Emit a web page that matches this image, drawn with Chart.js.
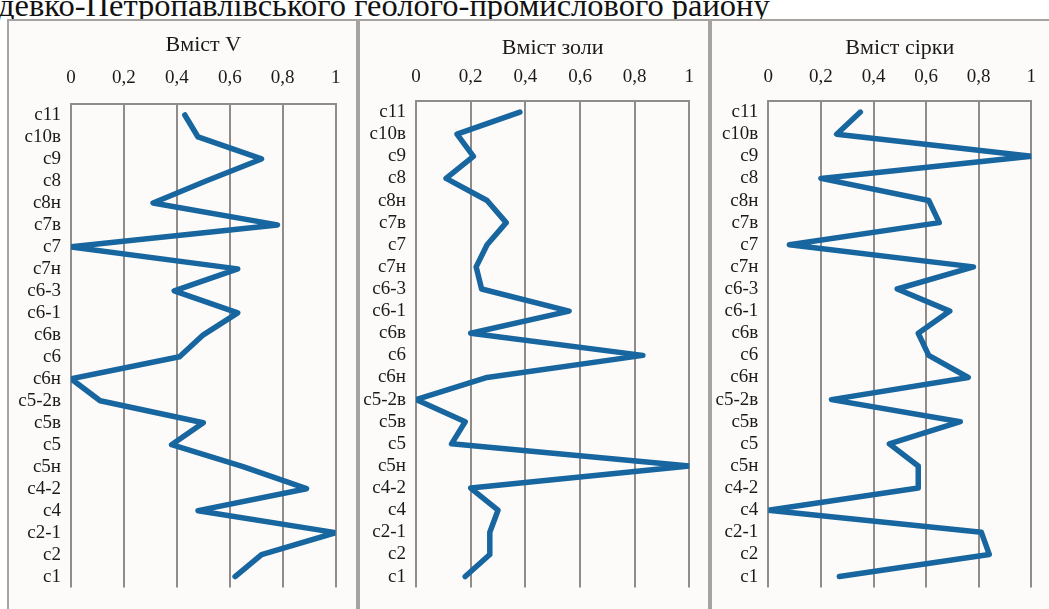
<!DOCTYPE html>
<html lang="uk">
<head>
<meta charset="utf-8">
<title>Вміст V, золи та сірки у пластах вугілля</title>
<script src="https://cdn.jsdelivr.net/npm/chart.js@4.4.1/dist/chart.umd.min.js"></script>
<style>
  html, body { margin: 0; padding: 0; background: #ffffff; }
  body { width: 1049px; height: 609px; position: relative; overflow: hidden; }
  .caption {
    position: absolute; left: -2px; top: -11px; white-space: nowrap;
    font-family: "Liberation Serif", "DejaVu Serif", serif; font-size: 32.5px; line-height: 32.5px;
    color: #111;
  }
  .frame {
    position: absolute; top: 19px; height: 620px; box-sizing: border-box;
    border: 2px solid #a6a3a0; background: #fdfbfa;
  }
  canvas { position: absolute; }
</style>
</head>
<body>
<div class="caption">девко-Петропавлівського геолого-промислового району</div>

<div class="frame" style="left:7px; width:351px;"></div>
<div class="frame" style="left:358px; width:352px;"></div>
<div class="frame" style="left:710px; width:350px;"></div>

<canvas id="chartV" width="345" height="589" style="left:10px; top:20px;"></canvas>
<canvas id="chartAsh" width="345" height="589" style="left:362px; top:20px;"></canvas>
<canvas id="chartS" width="335" height="589" style="left:714px; top:20px;"></canvas>

<script>
// Coal seams, listed from the top of the section down
const seams = ['с11', 'с10в', 'с9', 'с8', 'с8н', 'с7в', 'с7', 'с7н', 'с6-3', 'с6-1', 'с6в',
               'с6', 'с6н', 'с5-2в', 'с5в', 'с5', 'с5н', 'с4-2', 'с4', 'с2-1', 'с2', 'с1'];

// Normalised contents (0–1) per seam
const vanadium = [0.43, 0.48, 0.72, 0.51, 0.31, 0.78, 0.00, 0.63, 0.39, 0.63, 0.50,
                  0.41, 0.00, 0.11, 0.50, 0.38, 0.65, 0.89, 0.48, 1.00, 0.72, 0.62];
const ash      = [0.38, 0.15, 0.21, 0.11, 0.26, 0.33, 0.26, 0.22, 0.24, 0.56, 0.20,
                  0.83, 0.26, 0.00, 0.18, 0.13, 1.00, 0.20, 0.30, 0.27, 0.27, 0.18];
const sulfur   = [0.35, 0.26, 1.00, 0.20, 0.61, 0.65, 0.08, 0.78, 0.49, 0.69, 0.57,
                  0.61, 0.76, 0.24, 0.73, 0.46, 0.57, 0.57, 0.00, 0.81, 0.84, 0.27];

// Value axis ticks
const xTicks = [0, 0.2, 0.4, 0.6, 0.8, 1];
const xTickLabels = ['0', '0,2', '0,4', '0,6', '0,8', '1'];

const panelTitles = ['Вміст V', 'Вміст золи', 'Вміст сірки'];

const SERIF = '"Liberation Serif", "Times New Roman", serif';
const LINE_COLOR = '#17669f';
const GRID_COLOR = '#8f8c89';
const TEXT_COLOR = '#1c1a18';

// Draws the panel heading centred over the plot area
const panelTitle = {
  id: 'panelTitle',
  afterDraw(chart, args, opts) {
    const { ctx, chartArea } = chart;
    ctx.save();
    ctx.font = `${opts.size}px ${SERIF}`;
    ctx.fillStyle = TEXT_COLOR;
    ctx.textAlign = 'center';
    ctx.textBaseline = 'middle';
    ctx.fillText(opts.text, (chartArea.left + chartArea.right) / 2, opts.y);
    ctx.restore();
  }
};

function makePanel(canvasId, title, values, geo) {
  return new Chart(document.getElementById(canvasId), {
    type: 'line',
    plugins: [panelTitle],
    data: {
      labels: seams,
      datasets: [{
        label: title,
        data: values,
        borderColor: LINE_COLOR,
        borderWidth: 5.5,
        borderJoinStyle: 'round',
        borderCapStyle: 'round',
        pointRadius: 0,
        pointHoverRadius: 0,
        tension: 0,
        fill: false
      }]
    },
    options: {
      indexAxis: 'y',
      responsive: false,
      animation: false,
      events: [],
      layout: { padding: { left: 0, top: 0, right: geo.padRight, bottom: geo.padBottom } },
      plugins: {
        legend: { display: false },
        tooltip: { enabled: false },
        title: { display: false },
        panelTitle: { text: title, y: geo.titleY, size: 22 }
      },
      scales: {
        x: {
          type: 'linear',
          position: 'top',
          min: 0,
          max: 1,
          afterBuildTicks(scale) { scale.ticks = xTicks.map(v => ({ value: v })); },
          afterFit(scale) { scale.height = geo.top; },
          ticks: {
            padding: geo.tickPad,
            color: TEXT_COLOR,
            font: { family: SERIF, size: 19 },
            maxRotation: 0,
            callback: (v) => xTickLabels[xTicks.indexOf(v)] ?? ''
          },
          grid: { color: GRID_COLOR, lineWidth: 2, drawTicks: false },
          border: { display: true, color: GRID_COLOR, width: 2 }
        },
        y: {
          type: 'category',
          offset: true,
          afterFit(scale) { scale.width = geo.left; },
          ticks: {
            autoSkip: false,
            padding: 10,
            color: TEXT_COLOR,
            font: { family: SERIF, size: 19 }
          },
          grid: { display: false, drawTicks: false },
          border: { display: false }
        }
      }
    }
  });
}

makePanel('chartV', panelTitles[0], vanadium,
  { left: 61, top: 84, padRight: 13, padBottom: 11, titleY: 25, tickPad: 14.6 });
makePanel('chartAsh', panelTitles[1], ash,
  { left: 54, top: 81, padRight: 14.7, padBottom: 11, titleY: 28, tickPad: 12.9 });
makePanel('chartS', panelTitles[2], sulfur,
  { left: 54.3, top: 81, padRight: 2, padBottom: 11, titleY: 28, tickPad: 12.9 });
</script>
</body>
</html>
